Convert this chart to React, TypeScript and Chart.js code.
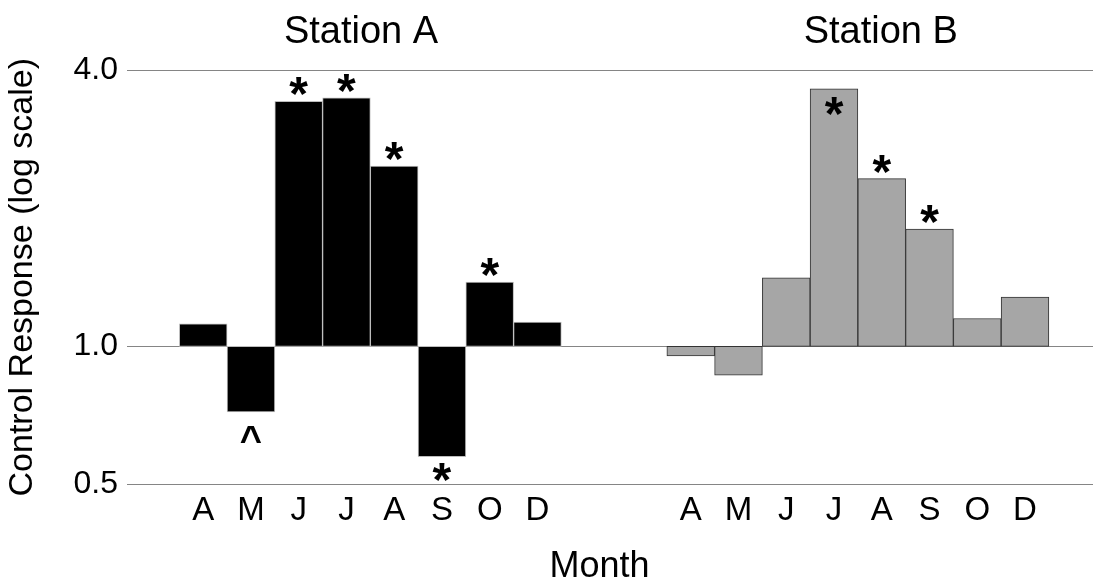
import React, { useEffect, useRef } from 'react';
import { Chart, registerables } from 'chart.js';

Chart.register(...registerables);

// ---- data ----
const MONTHS_A = ['A', 'M', 'J', 'J', 'A', 'S', 'O', 'D'];
const MONTHS_B = ['A', 'M', 'J', 'J', 'A', 'S', 'O', 'D'];
const STATION_A = [1.12, 0.72, 3.42, 3.48, 2.47, 0.575, 1.38, 1.13];
const STATION_B = [0.953, 0.865, 1.41, 3.64, 2.32, 1.8, 1.15, 1.28];
const SIG_A = ['', '^', '*', '*', '*', '*', '*', ''];
const SIG_B = ['', '', '', '*', '*', '*', '', ''];
const Y_TICKS = [0.5, 1.0, 4.0];
const TITLES = ['Station A', 'Station B'];
const X_TITLE = 'Month';
const Y_TITLE = 'Control Response (log scale)';

// ---- layout constants (data units on the x scale) ----
const GROUP_B_START = 10.21;
const X_MIN = -1.596;
const X_MAX = 18.634;
const TITLE_X = [3.305, 14.19];
const MONTH_TITLE_X = 8.3;

const FONT = '"Liberation Sans", Arial, Helvetica, sans-serif';

const xA = MONTHS_A.map((_, i) => i);
const xB = MONTHS_B.map((_, i) => i + GROUP_B_START);
const ALL_X = [...xA, ...xB];
const ALL_LABELS = [...MONTHS_A, ...MONTHS_B];

const textPlugin = {
  id: 'stationText',
  afterDatasetsDraw(chart: any) {
    const ctx = chart.ctx as CanvasRenderingContext2D;
    const areaTop = chart.chartArea.top;
    const groups = [
      { sig: SIG_A, vals: STATION_A },
      { sig: SIG_B, vals: STATION_B },
    ];
    groups.forEach((g, d) => {
      const meta = chart.getDatasetMeta(d);
      meta.data.forEach((bar: any, i: number) => {
        const s = g.sig[i];
        if (!s) return;
        ctx.save();
        ctx.font = s === '*' ? `bold 48px ${FONT}` : `bold 38px ${FONT}`;
        ctx.fillStyle = '#000';
        ctx.textAlign = 'center';
        ctx.textBaseline = 'alphabetic';
        const m = ctx.measureText(s);
        const asc = m.actualBoundingBoxAscent;
        const desc = m.actualBoundingBoxDescent;
        const h = asc + desc;
        const gap = s === '^' ? 14 : 6;
        const { x, y, base } = bar.getProps(['x', 'y', 'base'], true);
        const barTop = Math.min(y, base);
        const barBottom = Math.max(y, base);
        let cy: number;
        if (g.vals[i] >= 1) {
          cy = barTop - gap - h / 2;
          if (cy - h / 2 < areaTop) cy = barTop + gap + 2 + h / 2;
        } else {
          cy = barBottom + gap + h / 2;
        }
        ctx.fillText(s, x, cy + (asc - desc) / 2);
        ctx.restore();
      });
    });
  },
  afterDraw(chart: any) {
    const ctx = chart.ctx as CanvasRenderingContext2D;
    const xs = chart.scales.x;
    ctx.save();
    ctx.fillStyle = '#000';
    ctx.textAlign = 'center';
    ctx.textBaseline = 'alphabetic';
    ctx.font = `38px ${FONT}`;
    TITLES.forEach((t, k) => {
      ctx.fillText(t, xs.getPixelForValue(TITLE_X[k]), 43);
    });
    ctx.font = `36px ${FONT}`;
    ctx.fillText(X_TITLE, xs.getPixelForValue(MONTH_TITLE_X), 577);
    ctx.restore();
  },
};

export default function App() {
  const ref = useRef<HTMLCanvasElement>(null);

  useEffect(() => {
    document.body.style.margin = '0';
    const canvas = ref.current!;
    const chart = new Chart(canvas, {
      type: 'bar',
      data: {
        datasets: [
          {
            label: TITLES[0],
            data: STATION_A.map((v, i) => ({ x: xA[i], y: [1, v] })) as any,
            backgroundColor: '#000000',
            borderColor: '#bdbdbd',
            borderWidth: 1,
            borderSkipped: false,
            grouped: false,
            barPercentage: 1,
            categoryPercentage: 1,
          },
          {
            label: TITLES[1],
            data: STATION_B.map((v, i) => ({ x: xB[i], y: [1, v] })) as any,
            backgroundColor: '#a6a6a6',
            borderColor: '#333333',
            borderWidth: 1,
            borderSkipped: false,
            grouped: false,
            barPercentage: 1,
            categoryPercentage: 1,
          },
        ],
      },
      options: {
        animation: false,
        responsive: false,
        devicePixelRatio: 1,
        layout: { padding: { top: 70, left: 0, right: 0, bottom: 0 } },
        plugins: {
          legend: { display: false },
          tooltip: { enabled: false },
          title: { display: false },
        },
        scales: {
          x: {
            type: 'linear',
            offset: false,
            min: X_MIN,
            max: X_MAX,
            grid: { display: false, drawTicks: false, offset: false },
            border: { display: false },
            afterBuildTicks: (scale: any) => {
              scale.ticks = ALL_X.map((v) => ({ value: v }));
            },
            afterFit: (scale: any) => {
              scale.height = 98.5;
            },
            ticks: {
              autoSkip: false,
              maxRotation: 0,
              minRotation: 0,
              padding: 7,
              color: '#000',
              font: { family: FONT, size: 33 },
              callback: (_v: any, i: number) => ALL_LABELS[i],
            },
          },
          y: {
            type: 'logarithmic',
            min: 0.5,
            max: 4,
            grid: { color: '#858585', lineWidth: 1, drawTicks: false },
            border: { display: false },
            afterBuildTicks: (scale: any) => {
              scale.ticks = Y_TICKS.map((v) => ({ value: v }));
            },
            afterFit: (scale: any) => {
              scale.width = 127;
            },
            ticks: {
              padding: 9,
              color: '#000',
              font: { family: FONT, size: 32 },
              callback: (v: any) => Number(v).toFixed(1),
            },
            title: {
              display: true,
              text: Y_TITLE,
              color: '#000',
              font: { family: FONT, size: 34, lineHeight: 1.2 },
              padding: { top: 2, bottom: 0 },
            },
          },
        },
      },
      plugins: [textPlugin],
    } as any);
    return () => chart.destroy();
  }, []);

  return (
    <div style={{ width: 1093, height: 583 }}>
      <canvas ref={ref} width={1093} height={583} style={{ display: 'block' }} />
    </div>
  );
}
